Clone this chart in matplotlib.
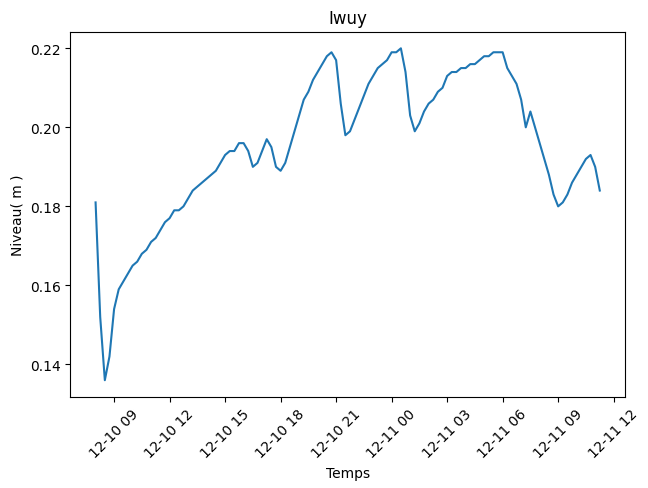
import matplotlib
matplotlib.use("Agg")
import matplotlib.pyplot as plt
import pandas as pd
import numpy as np

start_time = "2023-12-10 08:00"
step = "15min"
niveau = [
    0.181, 0.152, 0.136, 0.142, 0.154, 0.159, 0.161, 0.163, 0.165, 0.166,
    0.168, 0.169, 0.171, 0.172, 0.174, 0.176, 0.177, 0.179, 0.179, 0.180,
    0.182, 0.184, 0.185, 0.186, 0.187, 0.188, 0.189, 0.191, 0.193, 0.194,
    0.194, 0.196, 0.196, 0.194, 0.190, 0.191, 0.194, 0.197, 0.195, 0.190,
    0.189, 0.191, 0.195, 0.199, 0.203, 0.207, 0.209, 0.212, 0.214, 0.216,
    0.218, 0.219, 0.217, 0.206, 0.198, 0.199, 0.202, 0.205, 0.208, 0.211,
    0.213, 0.215, 0.216, 0.217, 0.219, 0.219, 0.220, 0.214, 0.203, 0.199,
    0.201, 0.204, 0.206, 0.207, 0.209, 0.210, 0.213, 0.214, 0.214, 0.215,
    0.215, 0.216, 0.216, 0.217, 0.218, 0.218, 0.219, 0.219, 0.219, 0.215,
    0.213, 0.211, 0.207, 0.200, 0.204, 0.200, 0.196, 0.192, 0.188, 0.183,
    0.180, 0.181, 0.183, 0.186, 0.188, 0.190, 0.192, 0.193, 0.190, 0.184,
]
temps = pd.date_range(start=start_time, periods=len(niveau), freq=step)

fig, ax = plt.subplots(figsize=(6.48, 4.89), dpi=100)
ax.plot(temps, niveau)
ax.set_title("Iwuy")
ax.set_xlabel("Temps")
ax.set_ylabel("Niveau( m )")
plt.setp(ax.get_xticklabels(), rotation=45)
fig.subplots_adjust(left=0.1086, right=0.9645, top=0.9331, bottom=0.1865)
fig.savefig("out.png")
